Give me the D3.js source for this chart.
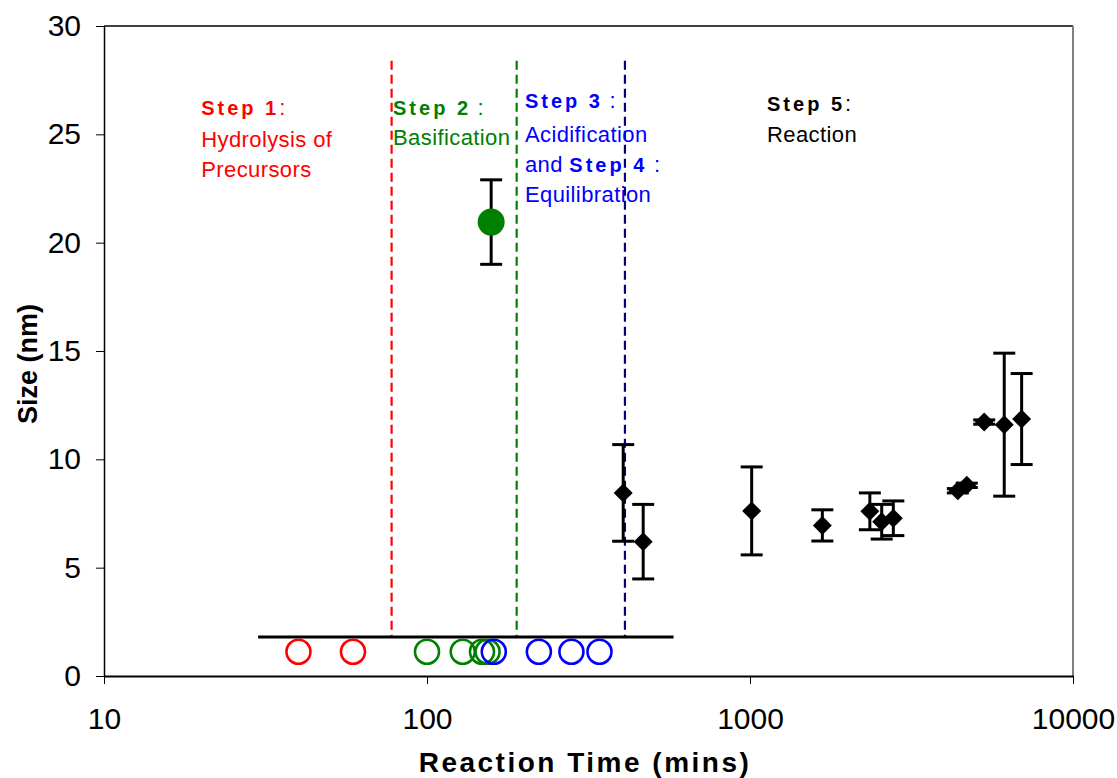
<!DOCTYPE html>
<html lang="en">
<head>
<meta charset="UTF-8">
<title>Size vs reaction time</title>
<script src="https://cdn.jsdelivr.net/npm/d3@7/dist/d3.min.js"></script>
<style>
  body { margin: 0; background: #fff; }
  svg { display: block; font-family: "Liberation Sans", Arial, sans-serif; }
</style>
</head>
<body>
<svg width="1117" height="778"></svg>
<script>
// data
var xTicks = [10, 100, 1000, 10000];
var yTicks = [0, 5, 10, 15, 20, 25, 30];

// step boundaries (mins)
var stepLines = [77.7, 189.5, 410];
var stepColors = ["#ff0000", "#008000", "#000080"];

// open circles along the bottom (time in mins, size)
var redTimes = [40, 59];
var greenTimes = [100, 129, 148, 154];
var blueTimes = [161, 222, 280, 342];
var circleSize = 1.12;
var baseRange = [30, 580];
var baseLevel = 1.8;

// green filled point
var greenTime = [158];
var greenSize = [20.95];
var greenErr = [1.95];

// black diamonds
var rxTime = [405, 467, 1012, 1675, 2350, 2557, 2778, 4400, 4690, 5310, 6125, 6934];
var rxSize = [8.45, 6.2, 7.62, 6.95, 7.6, 7.12, 7.28, 8.55, 8.8, 11.72, 11.6, 11.86];
var rxErr = [2.23, 1.72, 2.03, 0.72, 0.85, 0.8, 0.8, 0.1, 0.1, 0.1, 3.3, 2.1];

var svg = d3.select("svg");
var x = d3.scaleLog().domain([10, 10000]).range([104, 1073]);
var y = d3.scaleLinear().domain([0, 30]).range([676, 26]);

// frame
svg.append("line").attr("x1", 104).attr("x2", 1073).attr("y1", 26).attr("y2", 26)
  .attr("stroke", "#000").attr("stroke-width", 1.5);
svg.append("line").attr("x1", 1073).attr("x2", 1073).attr("y1", 26).attr("y2", 676)
  .attr("stroke", "#808080").attr("stroke-width", 2);

// axes
var yAxis = svg.append("g").attr("transform", "translate(104,0)")
  .call(d3.axisLeft(y).tickValues(yTicks).tickFormat(d3.format("d"))
    .tickSize(8).tickSizeOuter(0).tickPadding(15));
yAxis.selectAll("text").attr("font-size", 30).attr("fill", "#000")
  .attr("font-family", "Liberation Sans, Arial, sans-serif");
yAxis.select(".domain").attr("stroke-width", 1.5);

var xAxis = svg.append("g").attr("transform", "translate(0,676)")
  .call(d3.axisBottom(x).tickValues(xTicks).tickFormat(d3.format("d"))
    .tickSize(8).tickSizeOuter(0).tickPadding(24));
xAxis.selectAll("text").attr("font-size", 30).attr("fill", "#000")
  .attr("font-family", "Liberation Sans, Arial, sans-serif");
xAxis.select(".domain").attr("stroke-width", 2.2);

// axis titles
svg.append("text").attr("x", 585).attr("y", 772).attr("text-anchor", "middle")
  .attr("font-size", 28).attr("font-weight", "bold").attr("letter-spacing", 2.5)
  .text("Reaction Time (mins)");
svg.append("text").attr("transform", "translate(37,364) rotate(-90)")
  .attr("text-anchor", "middle").attr("font-size", 27).attr("font-weight", "bold")
  .text("Size (nm)");

// dashed step lines
svg.selectAll(".step").data(stepLines).enter().append("line")
  .attr("x1", function(d) { return x(d); }).attr("x2", function(d) { return x(d); })
  .attr("y1", y(28.4)).attr("y2", y(baseLevel))
  .attr("stroke", function(d, i) { return stepColors[i]; })
  .attr("stroke-width", 2.2).attr("stroke-dasharray", "9,5");

// baseline
svg.append("line").attr("x1", x(baseRange[0])).attr("x2", x(baseRange[1]))
  .attr("y1", y(baseLevel)).attr("y2", y(baseLevel))
  .attr("stroke", "#000").attr("stroke-width", 3);

// open circles
function rings(times, color) {
  svg.append("g").selectAll("circle").data(times).enter().append("circle")
    .attr("cx", function(d) { return x(d); }).attr("cy", y(circleSize))
    .attr("r", 12).attr("fill", "none").attr("stroke", color).attr("stroke-width", 2.6);
}
rings(redTimes, "#ff0000");
rings(greenTimes, "#008000");
rings(blueTimes, "#0000ff");

// error bars
function errBars(times, vals, errs) {
  var g = svg.append("g").attr("stroke", "#000").attr("stroke-width", 3);
  times.forEach(function(t, i) {
    var cx = x(t);
    g.append("line").attr("x1", cx).attr("x2", cx)
      .attr("y1", y(vals[i] + errs[i])).attr("y2", y(vals[i] - errs[i]));
    g.append("line").attr("x1", cx - 11).attr("x2", cx + 11)
      .attr("y1", y(vals[i] + errs[i])).attr("y2", y(vals[i] + errs[i]));
    g.append("line").attr("x1", cx - 11).attr("x2", cx + 11)
      .attr("y1", y(vals[i] - errs[i])).attr("y2", y(vals[i] - errs[i]));
  });
}
errBars(greenTime, greenSize, greenErr);
errBars(rxTime, rxSize, rxErr);

svg.append("g").selectAll("circle").data(greenTime).enter().append("circle")
  .attr("cx", function(d) { return x(d); })
  .attr("cy", function(d, i) { return y(greenSize[i]); })
  .attr("r", 13.5).attr("fill", "#008000");

var diamond = d3.symbol().type(d3.symbolSquare).size(180);
svg.append("g").selectAll("path").data(rxTime).enter().append("path")
  .attr("d", diamond)
  .attr("transform", function(d, i) {
    return "translate(" + x(d) + "," + y(rxSize[i]) + ") rotate(45)";
  })
  .attr("fill", "#000");

// step annotations
var notes = [
  { at: 20, color: "#ff0000", lines: [
    { dy: 115, parts: [["Step 1", true], [":", false]] },
    { dy: 147, parts: [["Hydrolysis of", false]] },
    { dy: 177, parts: [["Precursors", false]] } ] },
  { at: 78.5, color: "#008000", lines: [
    { dy: 115, parts: [["Step 2", true], [" :", false]] },
    { dy: 145, parts: [["Basification", false]] } ] },
  { at: 201, color: "#0000ff", lines: [
    { dy: 108, parts: [["Step 3", true], [" :", false]] },
    { dy: 142, parts: [["Acidification", false]] },
    { dy: 172, parts: [["and ", false], ["Step 4", true], [" :", false]] },
    { dy: 202, parts: [["Equilibration", false]] } ] },
  { at: 1129, color: "#000", lines: [
    { dy: 111, parts: [["Step 5", true], [":", false]] },
    { dy: 142, parts: [["Reaction", false]] } ] }
];
notes.forEach(function(n) {
  n.lines.forEach(function(l) {
    var t = svg.append("text").attr("x", x(n.at)).attr("y", l.dy)
      .attr("fill", n.color);
    l.parts.forEach(function(p) {
      t.append("tspan").text(p[0])
        .attr("font-size", p[1] ? 20 : 22)
        .attr("font-weight", p[1] ? "bold" : "normal")
        .attr("letter-spacing", p[1] ? 3 : 0.4);
    });
  });
});
</script>
</body>
</html>
